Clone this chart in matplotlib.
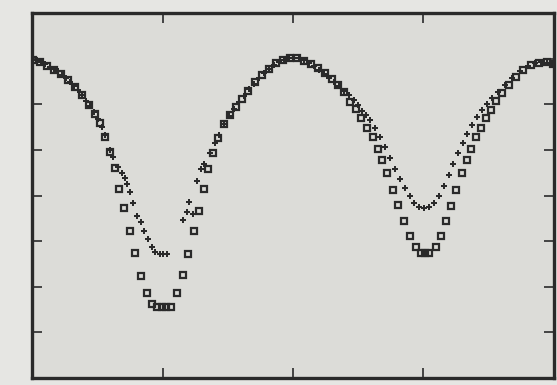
import matplotlib.pyplot as plt

# light curve, phase vs relative brightness (no labels in the original)
phase_plus = [
    .002, .010, .017, .025, .034, .042, .050, .057, .065, .073,
    .080, .088, .096, .103, .111, .119, .126, .134, .140, .149,
    .155, .165, .172, .178, .182, .188, .193, .201, .209, .215,
    .222, .230, .236, .245, .251, .259,
    .289, .297, .301, .308, .316, .324, .330, .341, .351, .358,
    .368, .377, .387, .397, .406, .416, .425, .435, .444, .454,
    .464, .473, .483, .492, .502, .511, .521, .531, .540, .550,
    .559, .569, .579, .588, .598, .607, .617, .625, .632, .640,
    .648, .657, .667, .676, .686, .695, .705, .715, .724, .732,
    .741, .751, .761, .770, .780, .789, .799, .807, .816, .826,
    .833, .843, .852, .862, .872, .881, .893, .906, .920, .935,
    .950, .964, .975, .987, .996,
]
flux_plus = [
    6.97, 6.97, 6.93, 6.89, 6.82, 6.78, 6.73, 6.64, 6.58, 6.49,
    6.40, 6.32, 6.21, 6.07, 5.96, 5.83, 5.68, 5.50, 5.33, 5.00,
    4.85, 4.63, 4.50, 4.39, 4.25, 4.08, 3.84, 3.55, 3.42, 3.22,
    3.05, 2.87, 2.76, 2.72, 2.72, 2.72,
    3.46, 3.64, 3.86, 3.60, 4.32, 4.58, 4.69, 4.93, 5.15, 5.33,
    5.57, 5.75, 5.90, 6.05, 6.18, 6.34, 6.45, 6.58, 6.69, 6.78,
    6.86, 6.93, 6.97, 7.02, 7.02, 7.02, 6.97, 6.91, 6.84, 6.75,
    6.67, 6.58, 6.49, 6.40, 6.29, 6.21, 6.10, 5.99, 5.86, 5.77,
    5.66, 5.48, 5.29, 5.07, 4.82, 4.58, 4.36, 4.17, 3.99, 3.84,
    3.75, 3.73, 3.75, 3.84, 3.99, 4.21, 4.45, 4.69, 4.93, 5.15,
    5.35, 5.55, 5.72, 5.88, 6.01, 6.14, 6.27, 6.43, 6.58, 6.73,
    6.84, 6.91, 6.93, 6.91, 6.89,
]

phase_sq = [
    .002, .015, .029, .042, .056, .069, .082, .096, .109, .121,
    .130, .140, .149, .159, .167, .176, .188, .197, .209, .220,
    .230, .239, .249, .257, .266, .278, .289, .299, .310, .320,
    .330, .337, .347, .356, .368, .379, .391, .402, .414, .427,
    .441, .454, .467, .481, .494, .508, .521, .534, .548, .561,
    .575, .586, .598, .609, .621, .630, .642, .653, .663, .670,
    .680, .692, .701, .713, .724, .736, .745, .753, .761, .774,
    .784, .793, .803, .812, .824, .833, .841, .851, .860, .870,
    .879, .889, .900, .914, .927, .941, .956, .971, .987, .998,
]
flux_sq = [
    6.97, 6.93, 6.84, 6.75, 6.67, 6.54, 6.38, 6.21, 5.99, 5.79,
    5.59, 5.29, 4.96, 4.61, 4.14, 3.73, 3.22, 2.74, 2.24, 1.86,
    1.62, 1.56, 1.56, 1.56, 1.56, 1.86, 2.26, 2.72, 3.22, 3.66,
    4.14, 4.58, 4.93, 5.26, 5.57, 5.77, 5.94, 6.12, 6.29, 6.49,
    6.64, 6.78, 6.91, 6.97, 7.02, 7.02, 6.95, 6.89, 6.80, 6.69,
    6.56, 6.43, 6.27, 6.05, 5.90, 5.70, 5.48, 5.29, 5.02, 4.78,
    4.50, 4.12, 3.79, 3.44, 3.11, 2.87, 2.74, 2.74, 2.74, 2.87,
    3.11, 3.44, 3.77, 4.12, 4.50, 4.78, 5.02, 5.29, 5.48, 5.70,
    5.88, 6.07, 6.25, 6.43, 6.60, 6.75, 6.86, 6.91, 6.93, 6.89,
]

ink = '#2a2a2a'

fig = plt.figure(figsize=(5.57, 3.85), dpi=100, facecolor='#e6e6e3')
ax = fig.add_axes([0.0575, 0.018, 0.937, 0.948], facecolor='#dcdcd8')

ax.plot(phase_sq, flux_sq, 's', ms=4.0, mfc='none', mec=ink, mew=1.6)
ax.plot(phase_plus, flux_plus, 'P', ms=4.8, color=ink, mew=0)

ax.set_xlim(0, 1)
ax.set_ylim(0, 8)
ax.set_xticks([0.25, 0.5, 0.75])
ax.set_yticks(range(1, 8))
ax.tick_params(direction='in', length=7, width=1.2, color=ink,
               top=True, right=True, labelleft=False, labelbottom=False)
for s in ax.spines.values():
    s.set_linewidth(2.4)
    s.set_color(ink)

fig.savefig('out.png', dpi=100, facecolor=fig.get_facecolor())
